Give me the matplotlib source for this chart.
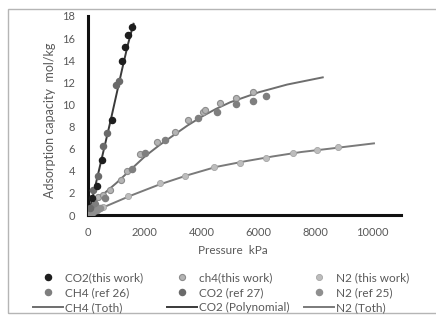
import matplotlib
matplotlib.use("Agg")
import matplotlib.pyplot as plt
from matplotlib.patches import Rectangle
from matplotlib.lines import Line2D

plt.rcParams['font.family'] = ['Lato', 'DejaVu Sans']

# ---- data ----
co2_this_p = [150, 300, 480, 850, 1200, 1300, 1420, 1560]
co2_this_q = [1.5, 2.6, 5.0, 8.6, 13.9, 15.2, 16.3, 17.0]

co2_ref27_p = [60, 190, 360, 540, 660, 1000, 1100]
co2_ref27_q = [0.6, 2.3, 3.5, 6.2, 7.4, 11.8, 12.1]

co2_poly_p = [0, 200, 400, 600, 800, 1000, 1200, 1400, 1600]
co2_poly_q = [0, 2.0, 4.2, 6.4, 8.6, 10.9, 13.2, 15.4, 17.3]

ch4_this_p = [100, 360, 540, 770, 1160, 1360, 1830, 2410, 3060, 3530, 4050, 4110, 4640, 5200, 5810]
ch4_this_q = [0.6, 1.65, 1.8, 2.3, 3.16, 4.0, 5.5, 6.6, 7.5, 8.6, 9.34, 9.5, 10.1, 10.55, 11.1]

ch4_ref26_p = [250, 600, 1535, 2000, 2700, 3880, 4545, 5190, 5810, 6257]
ch4_ref26_q = [1.0, 1.5, 4.2, 5.6, 6.8, 8.74, 9.3, 10.0, 10.3, 10.8]

ch4_toth_p = [0, 250, 500, 1000, 1500, 2000, 2500, 3000, 3500, 4000, 4500, 5000, 6000, 7000, 8250]
ch4_toth_q = [0, 1.1, 1.8, 2.9, 4.1, 5.3, 6.3, 7.2, 8.1, 8.9, 9.6, 10.2, 11.1, 11.8, 12.45]

n2_this_p = [540, 1420, 2530, 3410, 4430, 5340, 6260, 7220, 8060, 8800]
n2_this_q = [0.7, 1.7, 2.85, 3.5, 4.3, 4.73, 5.18, 5.58, 5.85, 6.12]

n2_ref25_p = [80, 180, 300, 420]
n2_ref25_q = [0.15, 0.3, 0.45, 0.6]

n2_toth_p = [0, 500, 1000, 1500, 2500, 3500, 4500, 5500, 6500, 7500, 8500, 10050]
n2_toth_q = [0, 0.65, 1.2, 1.75, 2.75, 3.6, 4.35, 4.85, 5.3, 5.7, 6.0, 6.48]

x_ticks = [0, 2000, 4000, 6000, 8000, 10000]
y_ticks = [0, 2, 4, 6, 8, 10, 12, 14, 16, 18]

# ---- figure ----
W, H = 436, 319
fig = plt.figure(figsize=(W/100, H/100), dpi=100)
ax = fig.add_axes([88/W, 1-215/H, (401-88)/W, (215-16)/H])

txt = '#595959'
ms = 4.4

ax.plot(ch4_toth_p, ch4_toth_q, '-', color='#6e6e6e', lw=1.4, zorder=2)
ax.plot(n2_toth_p, n2_toth_q, '-', color='#7a7a7a', lw=1.4, zorder=2)
ax.plot(co2_poly_p, co2_poly_q, '-', color='#3a3a3a', lw=1.4, zorder=2)

ax.plot(ch4_this_p, ch4_this_q, 'o', color='#b4b4b4', mec='#8c8c8c', mew=0.8, ms=ms, zorder=3)
ax.plot(ch4_ref26_p, ch4_ref26_q, 'o', color='#7f7f7f', mec='#7f7f7f', ms=ms, zorder=3)
ax.plot(n2_this_p, n2_this_q, 'o', color='#bdbdbd', mec='#a5a5a5', mew=0.6, ms=ms, zorder=3)
ax.plot(n2_ref25_p, n2_ref25_q, 'o', color='#8f8f8f', mec='#8f8f8f', ms=ms, zorder=3)
ax.plot(co2_ref27_p, co2_ref27_q, 'o', color='#6a6a6a', mec='#6a6a6a', ms=ms, zorder=3)
ax.plot(co2_this_p, co2_this_q, 'o', color='#1e1e1e', mec='#1e1e1e', ms=ms, zorder=4)

ax.set_xlim(0, 11000)
ax.set_ylim(0, 18)
ax.set_xticks(x_ticks)
ax.set_yticks(y_ticks)
ax.tick_params(length=0, labelsize=8, colors=txt)
ax.tick_params(axis='y', pad=9.4)
ax.tick_params(axis='x', pad=8.5)
for s in ['top', 'right']:
    ax.spines[s].set_visible(False)
for s in ['left', 'bottom']:
    ax.spines[s].set_linewidth(2.2)
    ax.spines[s].set_color('#111111')
ax.set_xlabel('Pressure  kPa', fontsize=8.5, color=txt, va='center')
ax.xaxis.set_label_coords((233-88)/313, (215-251)/199)
ax.set_ylabel('Adsorption capacity  mol/kg', fontsize=9, color=txt, va='center')
ax.yaxis.set_label_coords((50-88)/313, (215-120)/199)

h = {
    'co2_this': Line2D([], [], ls='', marker='o', color='#1e1e1e', ms=ms),
    'ch4_this': Line2D([], [], ls='', marker='o', color='#b4b4b4', mec='#8c8c8c', mew=0.8, ms=ms),
    'n2_this': Line2D([], [], ls='', marker='o', color='#bdbdbd', mec='#a5a5a5', mew=0.6, ms=ms),
    'ch4_ref': Line2D([], [], ls='', marker='o', color='#7f7f7f', ms=ms),
    'co2_ref': Line2D([], [], ls='', marker='o', color='#6a6a6a', ms=ms),
    'n2_ref': Line2D([], [], ls='', marker='o', color='#8f8f8f', ms=ms),
    'ch4_toth': Line2D([], [], ls='-', color='#6e6e6e', lw=1.4),
    'co2_poly': Line2D([], [], ls='-', color='#3a3a3a', lw=1.4),
    'n2_toth': Line2D([], [], ls='-', color='#7a7a7a', lw=1.4),
}
columns = [
    [('co2_this', 'CO2(this work)'), ('ch4_ref', 'CH4 (ref 26)'), ('ch4_toth', 'CH4 (Toth)')],
    [('ch4_this', 'ch4(this work)'), ('co2_ref', 'CO2 (ref 27)'), ('co2_poly', 'CO2 (Polynomial)')],
    [('n2_this', 'N2 (this work)'), ('n2_ref', 'N2 (ref 25)'), ('n2_toth', 'N2 (Toth)')],
]
col_x = [33, 167, 304]
for cx, col in zip(col_x, columns):
    leg = fig.legend([h[k] for k, _ in col], [l for _, l in col], ncol=1,
                     loc='center left', bbox_to_anchor=(cx/W, 1-292.5/H),
                     frameon=False, fontsize=8.5, handlelength=2.5, handletextpad=0.25,
                     labelspacing=0.35, borderpad=0, borderaxespad=0)
    for t in leg.get_texts():
        t.set_color(txt)

fig.patches.append(Rectangle((8/W, 1-313/H), 430/W, 304/H, transform=fig.transFigure,
                             fill=False, edgecolor='#b5b5b5', lw=1.0))

fig.savefig('out.png', dpi=100)
